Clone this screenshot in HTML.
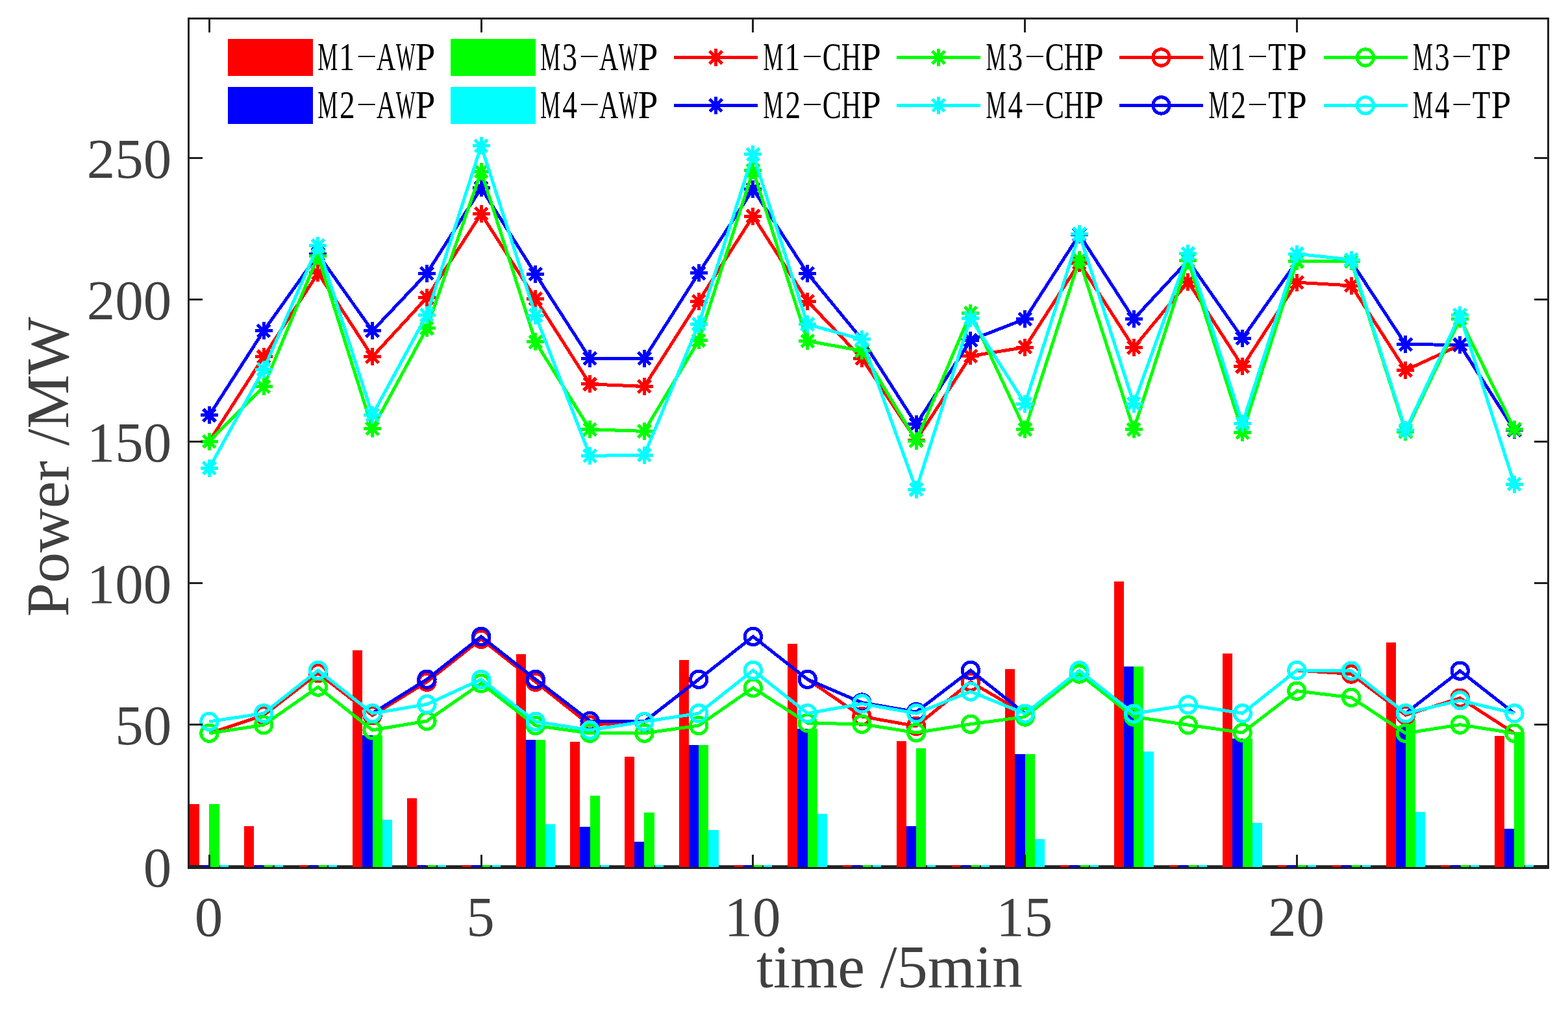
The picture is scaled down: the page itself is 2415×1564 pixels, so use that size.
<!DOCTYPE html><html><head><meta charset="utf-8"><title>Power chart</title>
<style>html,body{margin:0;padding:0;background:#fff;}svg{display:block;}.tk{font-family:"Liberation Serif","Times New Roman",serif;font-size:87px;fill:#404040;}.lb{font-family:"Liberation Serif","Times New Roman",serif;font-size:94px;fill:#404040;}.lg{font-family:"Liberation Serif","Times New Roman",serif;font-size:61px;fill:#000;}</style></head><body>
<svg width="2415" height="1564" viewBox="0 0 2415 1564">
<rect x="0" y="0" width="2415" height="1564" fill="#fff"/>
<defs><clipPath id="ax"><rect x="290.5" y="28.5" width="2093.8" height="1309.0"/></clipPath>
<path id="ast" d="M-13.50 0H13.50M0 -13.50V13.50M-9.55 -9.55L9.55 9.55M-9.55 9.55L9.55 -9.55" stroke-width="5" fill="none"/>
</defs>
<g clip-path="url(#ax)">
<line x1="290.5" y1="1334.70" x2="2384.3" y2="1334.70" stroke="#202020" stroke-width="3"/>
<g shape-rendering="crispEdges">
<rect x="292.0" y="1239.2" width="15.2" height="97.0" fill="#ff0000"/>
<rect x="308.3" y="1333.2" width="13.0" height="3.0" fill="#0000ff"/>
<rect x="322.4" y="1239.2" width="15.2" height="97.0" fill="#00ff00"/>
<rect x="338.7" y="1333.2" width="13.0" height="3.0" fill="#00ffff"/>
<rect x="375.7" y="1273.2" width="15.2" height="63.0" fill="#ff0000"/>
<rect x="392.0" y="1333.2" width="13.0" height="3.0" fill="#0000ff"/>
<rect x="407.3" y="1333.2" width="13.0" height="3.0" fill="#00ff00"/>
<rect x="422.5" y="1333.2" width="13.0" height="3.0" fill="#00ffff"/>
<rect x="460.6" y="1333.2" width="13.0" height="3.0" fill="#ff0000"/>
<rect x="475.8" y="1333.2" width="13.0" height="3.0" fill="#0000ff"/>
<rect x="491.0" y="1333.2" width="13.0" height="3.0" fill="#00ff00"/>
<rect x="506.2" y="1333.2" width="13.0" height="3.0" fill="#00ffff"/>
<rect x="543.2" y="1002.1" width="15.2" height="334.1" fill="#ff0000"/>
<rect x="558.4" y="1133.1" width="15.2" height="203.1" fill="#0000ff"/>
<rect x="573.7" y="1133.1" width="15.2" height="203.1" fill="#00ff00"/>
<rect x="588.9" y="1262.8" width="15.2" height="73.4" fill="#00ffff"/>
<rect x="627.0" y="1230.0" width="15.2" height="106.2" fill="#ff0000"/>
<rect x="643.3" y="1333.2" width="13.0" height="3.0" fill="#0000ff"/>
<rect x="658.5" y="1333.2" width="13.0" height="3.0" fill="#00ff00"/>
<rect x="673.7" y="1333.2" width="13.0" height="3.0" fill="#00ffff"/>
<rect x="711.8" y="1333.2" width="13.0" height="3.0" fill="#ff0000"/>
<rect x="727.0" y="1333.2" width="13.0" height="3.0" fill="#0000ff"/>
<rect x="742.3" y="1333.2" width="13.0" height="3.0" fill="#00ff00"/>
<rect x="757.5" y="1333.2" width="13.0" height="3.0" fill="#00ffff"/>
<rect x="794.5" y="1008.2" width="15.2" height="328.0" fill="#ff0000"/>
<rect x="809.7" y="1139.6" width="15.2" height="196.6" fill="#0000ff"/>
<rect x="824.9" y="1139.6" width="15.2" height="196.6" fill="#00ff00"/>
<rect x="840.1" y="1270.2" width="15.2" height="66.0" fill="#00ffff"/>
<rect x="878.2" y="1143.1" width="15.2" height="193.1" fill="#ff0000"/>
<rect x="893.4" y="1274.1" width="15.2" height="62.1" fill="#0000ff"/>
<rect x="908.7" y="1226.1" width="15.2" height="110.1" fill="#00ff00"/>
<rect x="925.0" y="1333.2" width="13.0" height="3.0" fill="#00ffff"/>
<rect x="962.0" y="1166.3" width="15.2" height="169.9" fill="#ff0000"/>
<rect x="977.2" y="1296.8" width="15.2" height="39.4" fill="#0000ff"/>
<rect x="992.4" y="1252.3" width="15.2" height="83.9" fill="#00ff00"/>
<rect x="1008.7" y="1333.2" width="13.0" height="3.0" fill="#00ffff"/>
<rect x="1045.7" y="1017.4" width="15.2" height="318.8" fill="#ff0000"/>
<rect x="1060.9" y="1148.4" width="15.2" height="187.8" fill="#0000ff"/>
<rect x="1076.2" y="1148.4" width="15.2" height="187.8" fill="#00ff00"/>
<rect x="1091.4" y="1279.4" width="15.2" height="56.8" fill="#00ffff"/>
<rect x="1130.6" y="1333.2" width="13.0" height="3.0" fill="#ff0000"/>
<rect x="1145.8" y="1333.2" width="13.0" height="3.0" fill="#0000ff"/>
<rect x="1161.0" y="1333.2" width="13.0" height="3.0" fill="#00ff00"/>
<rect x="1176.2" y="1333.2" width="13.0" height="3.0" fill="#00ffff"/>
<rect x="1213.2" y="991.6" width="15.2" height="344.6" fill="#ff0000"/>
<rect x="1228.4" y="1123.1" width="15.2" height="213.1" fill="#0000ff"/>
<rect x="1243.7" y="1123.1" width="15.2" height="213.1" fill="#00ff00"/>
<rect x="1258.9" y="1254.0" width="15.2" height="82.2" fill="#00ffff"/>
<rect x="1298.1" y="1333.2" width="13.0" height="3.0" fill="#ff0000"/>
<rect x="1313.3" y="1333.2" width="13.0" height="3.0" fill="#0000ff"/>
<rect x="1328.5" y="1333.2" width="13.0" height="3.0" fill="#00ff00"/>
<rect x="1343.7" y="1333.2" width="13.0" height="3.0" fill="#00ffff"/>
<rect x="1380.7" y="1142.3" width="15.2" height="193.9" fill="#ff0000"/>
<rect x="1395.9" y="1273.2" width="15.2" height="63.0" fill="#0000ff"/>
<rect x="1411.2" y="1153.2" width="15.2" height="183.0" fill="#00ff00"/>
<rect x="1427.5" y="1333.2" width="13.0" height="3.0" fill="#00ffff"/>
<rect x="1465.6" y="1333.2" width="13.0" height="3.0" fill="#ff0000"/>
<rect x="1480.8" y="1333.2" width="13.0" height="3.0" fill="#0000ff"/>
<rect x="1496.0" y="1333.2" width="13.0" height="3.0" fill="#00ff00"/>
<rect x="1511.2" y="1333.2" width="13.0" height="3.0" fill="#00ffff"/>
<rect x="1548.2" y="1031.4" width="15.2" height="304.8" fill="#ff0000"/>
<rect x="1563.4" y="1162.4" width="15.2" height="173.8" fill="#0000ff"/>
<rect x="1578.7" y="1162.4" width="15.2" height="173.8" fill="#00ff00"/>
<rect x="1593.9" y="1293.3" width="15.2" height="42.9" fill="#00ffff"/>
<rect x="1633.1" y="1333.2" width="13.0" height="3.0" fill="#ff0000"/>
<rect x="1648.3" y="1333.2" width="13.0" height="3.0" fill="#0000ff"/>
<rect x="1663.5" y="1333.2" width="13.0" height="3.0" fill="#00ff00"/>
<rect x="1678.7" y="1333.2" width="13.0" height="3.0" fill="#00ffff"/>
<rect x="1715.7" y="896.0" width="15.2" height="440.2" fill="#ff0000"/>
<rect x="1730.9" y="1027.0" width="15.2" height="309.2" fill="#0000ff"/>
<rect x="1746.2" y="1027.0" width="15.2" height="309.2" fill="#00ff00"/>
<rect x="1761.4" y="1158.0" width="15.2" height="178.2" fill="#00ffff"/>
<rect x="1800.6" y="1333.2" width="13.0" height="3.0" fill="#ff0000"/>
<rect x="1815.8" y="1333.2" width="13.0" height="3.0" fill="#0000ff"/>
<rect x="1831.0" y="1333.2" width="13.0" height="3.0" fill="#00ff00"/>
<rect x="1846.2" y="1333.2" width="13.0" height="3.0" fill="#00ffff"/>
<rect x="1883.2" y="1006.9" width="15.2" height="329.3" fill="#ff0000"/>
<rect x="1898.4" y="1137.5" width="15.2" height="198.7" fill="#0000ff"/>
<rect x="1913.7" y="1137.5" width="15.2" height="198.7" fill="#00ff00"/>
<rect x="1928.9" y="1268.4" width="15.2" height="67.8" fill="#00ffff"/>
<rect x="1968.1" y="1333.2" width="13.0" height="3.0" fill="#ff0000"/>
<rect x="1983.3" y="1333.2" width="13.0" height="3.0" fill="#0000ff"/>
<rect x="1998.5" y="1333.2" width="13.0" height="3.0" fill="#00ff00"/>
<rect x="2013.7" y="1333.2" width="13.0" height="3.0" fill="#00ffff"/>
<rect x="2051.8" y="1333.2" width="13.0" height="3.0" fill="#ff0000"/>
<rect x="2067.0" y="1333.2" width="13.0" height="3.0" fill="#0000ff"/>
<rect x="2082.3" y="1333.2" width="13.0" height="3.0" fill="#00ff00"/>
<rect x="2097.5" y="1333.2" width="13.0" height="3.0" fill="#00ffff"/>
<rect x="2134.5" y="989.5" width="15.2" height="346.7" fill="#ff0000"/>
<rect x="2149.7" y="1120.4" width="15.2" height="215.8" fill="#0000ff"/>
<rect x="2164.9" y="1109.1" width="15.2" height="227.1" fill="#00ff00"/>
<rect x="2180.1" y="1250.5" width="15.2" height="85.7" fill="#00ffff"/>
<rect x="2219.3" y="1333.2" width="13.0" height="3.0" fill="#ff0000"/>
<rect x="2234.5" y="1333.2" width="13.0" height="3.0" fill="#0000ff"/>
<rect x="2249.8" y="1333.2" width="13.0" height="3.0" fill="#00ff00"/>
<rect x="2265.0" y="1333.2" width="13.0" height="3.0" fill="#00ffff"/>
<rect x="2302.0" y="1133.5" width="15.2" height="202.7" fill="#ff0000"/>
<rect x="2317.2" y="1277.2" width="15.2" height="59.0" fill="#0000ff"/>
<rect x="2332.4" y="1128.3" width="15.2" height="207.9" fill="#00ff00"/>
<rect x="2348.7" y="1333.2" width="13.0" height="3.0" fill="#00ffff"/>
</g>
<g stroke="#ff0000" fill="none" shape-rendering="crispEdges">
<polyline points="322.4,680.1 406.1,549.6 489.9,420.8 573.6,549.6 657.4,458.7 741.1,329.5 824.9,460.5 908.6,591.9 992.4,595.4 1076.2,464.0 1159.9,333.0 1243.7,464.0 1327.4,552.2 1411.2,678.4 1494.9,548.7 1578.7,535.1 1662.4,405.0 1746.2,535.6 1829.9,434.3 1913.7,564.8 1997.4,435.2 2081.2,440.0 2164.9,570.5 2248.7,531.7 2332.4,662.6" stroke-width="5" stroke-linejoin="miter" stroke-miterlimit="10"/>
<use href="#ast" x="322.4" y="680.1"/>
<use href="#ast" x="406.1" y="549.6"/>
<use href="#ast" x="489.9" y="420.8"/>
<use href="#ast" x="573.6" y="549.6"/>
<use href="#ast" x="657.4" y="458.7"/>
<use href="#ast" x="741.1" y="329.5"/>
<use href="#ast" x="824.9" y="460.5"/>
<use href="#ast" x="908.6" y="591.9"/>
<use href="#ast" x="992.4" y="595.4"/>
<use href="#ast" x="1076.2" y="464.0"/>
<use href="#ast" x="1159.9" y="333.0"/>
<use href="#ast" x="1243.7" y="464.0"/>
<use href="#ast" x="1327.4" y="552.2"/>
<use href="#ast" x="1411.2" y="678.4"/>
<use href="#ast" x="1494.9" y="548.7"/>
<use href="#ast" x="1578.7" y="535.1"/>
<use href="#ast" x="1662.4" y="405.0"/>
<use href="#ast" x="1746.2" y="535.6"/>
<use href="#ast" x="1829.9" y="434.3"/>
<use href="#ast" x="1913.7" y="564.8"/>
<use href="#ast" x="1997.4" y="435.2"/>
<use href="#ast" x="2081.2" y="440.0"/>
<use href="#ast" x="2164.9" y="570.5"/>
<use href="#ast" x="2248.7" y="531.7"/>
<use href="#ast" x="2332.4" y="662.6"/>
</g>
<g stroke="#0000ff" fill="none" shape-rendering="crispEdges">
<polyline points="322.4,639.9 406.1,509.8 489.9,391.9 573.6,509.8 657.4,421.2 741.1,289.8 824.9,422.5 908.6,552.2 992.4,552.2 1076.2,420.8 1159.9,291.5 1243.7,421.2 1327.4,522.9 1411.2,653.9 1494.9,524.2 1578.7,491.5 1662.4,361.4 1746.2,491.5 1829.9,401.5 1913.7,521.2 1997.4,402.9 2081.2,402.9 2164.9,530.8 2248.7,531.2 2332.4,662.6" stroke-width="5" stroke-linejoin="miter" stroke-miterlimit="10"/>
<use href="#ast" x="322.4" y="639.9"/>
<use href="#ast" x="406.1" y="509.8"/>
<use href="#ast" x="489.9" y="391.9"/>
<use href="#ast" x="573.6" y="509.8"/>
<use href="#ast" x="657.4" y="421.2"/>
<use href="#ast" x="741.1" y="289.8"/>
<use href="#ast" x="824.9" y="422.5"/>
<use href="#ast" x="908.6" y="552.2"/>
<use href="#ast" x="992.4" y="552.2"/>
<use href="#ast" x="1076.2" y="420.8"/>
<use href="#ast" x="1159.9" y="291.5"/>
<use href="#ast" x="1243.7" y="421.2"/>
<use href="#ast" x="1327.4" y="522.9"/>
<use href="#ast" x="1411.2" y="653.9"/>
<use href="#ast" x="1494.9" y="524.2"/>
<use href="#ast" x="1578.7" y="491.5"/>
<use href="#ast" x="1662.4" y="361.4"/>
<use href="#ast" x="1746.2" y="491.5"/>
<use href="#ast" x="1829.9" y="401.5"/>
<use href="#ast" x="1913.7" y="521.2"/>
<use href="#ast" x="1997.4" y="402.9"/>
<use href="#ast" x="2081.2" y="402.9"/>
<use href="#ast" x="2164.9" y="530.8"/>
<use href="#ast" x="2248.7" y="531.2"/>
<use href="#ast" x="2332.4" y="662.6"/>
</g>
<g stroke="#00ff00" fill="none" shape-rendering="crispEdges">
<polyline points="322.4,680.1 406.1,595.8 489.9,394.6 573.6,660.5 657.4,505.9 741.1,264.0 824.9,526.9 908.6,661.8 992.4,664.4 1076.2,524.7 1159.9,262.7 1243.7,525.5 1327.4,540.4 1411.2,679.2 1494.9,482.3 1578.7,661.8 1662.4,400.2 1746.2,661.8 1829.9,401.5 1913.7,666.6 1997.4,402.9 2081.2,402.9 2164.9,665.3 2248.7,491.1 2332.4,661.3" stroke-width="5" stroke-linejoin="miter" stroke-miterlimit="10"/>
<use href="#ast" x="322.4" y="680.1"/>
<use href="#ast" x="406.1" y="595.8"/>
<use href="#ast" x="489.9" y="394.6"/>
<use href="#ast" x="573.6" y="660.5"/>
<use href="#ast" x="657.4" y="505.9"/>
<use href="#ast" x="741.1" y="264.0"/>
<use href="#ast" x="824.9" y="526.9"/>
<use href="#ast" x="908.6" y="661.8"/>
<use href="#ast" x="992.4" y="664.4"/>
<use href="#ast" x="1076.2" y="524.7"/>
<use href="#ast" x="1159.9" y="262.7"/>
<use href="#ast" x="1243.7" y="525.5"/>
<use href="#ast" x="1327.4" y="540.4"/>
<use href="#ast" x="1411.2" y="679.2"/>
<use href="#ast" x="1494.9" y="482.3"/>
<use href="#ast" x="1578.7" y="661.8"/>
<use href="#ast" x="1662.4" y="400.2"/>
<use href="#ast" x="1746.2" y="661.8"/>
<use href="#ast" x="1829.9" y="401.5"/>
<use href="#ast" x="1913.7" y="666.6"/>
<use href="#ast" x="1997.4" y="402.9"/>
<use href="#ast" x="2081.2" y="402.9"/>
<use href="#ast" x="2164.9" y="665.3"/>
<use href="#ast" x="2248.7" y="491.1"/>
<use href="#ast" x="2332.4" y="661.3"/>
</g>
<g stroke="#00ffff" fill="none" shape-rendering="crispEdges">
<polyline points="322.4,721.1 406.1,569.2 489.9,378.4 573.6,639.5 657.4,485.4 741.1,224.7 824.9,486.2 908.6,702.4 992.4,701.1 1076.2,499.3 1159.9,237.8 1243.7,499.8 1327.4,522.9 1411.2,754.3 1494.9,490.2 1578.7,622.0 1662.4,360.5 1746.2,622.0 1829.9,390.6 1913.7,652.6 1997.4,391.1 2081.2,400.2 2164.9,662.6 2248.7,485.4 2332.4,746.0" stroke-width="5" stroke-linejoin="miter" stroke-miterlimit="10"/>
<use href="#ast" x="322.4" y="721.1"/>
<use href="#ast" x="406.1" y="569.2"/>
<use href="#ast" x="489.9" y="378.4"/>
<use href="#ast" x="573.6" y="639.5"/>
<use href="#ast" x="657.4" y="485.4"/>
<use href="#ast" x="741.1" y="224.7"/>
<use href="#ast" x="824.9" y="486.2"/>
<use href="#ast" x="908.6" y="702.4"/>
<use href="#ast" x="992.4" y="701.1"/>
<use href="#ast" x="1076.2" y="499.3"/>
<use href="#ast" x="1159.9" y="237.8"/>
<use href="#ast" x="1243.7" y="499.8"/>
<use href="#ast" x="1327.4" y="522.9"/>
<use href="#ast" x="1411.2" y="754.3"/>
<use href="#ast" x="1494.9" y="490.2"/>
<use href="#ast" x="1578.7" y="622.0"/>
<use href="#ast" x="1662.4" y="360.5"/>
<use href="#ast" x="1746.2" y="622.0"/>
<use href="#ast" x="1829.9" y="390.6"/>
<use href="#ast" x="1913.7" y="652.6"/>
<use href="#ast" x="1997.4" y="391.1"/>
<use href="#ast" x="2081.2" y="400.2"/>
<use href="#ast" x="2164.9" y="662.6"/>
<use href="#ast" x="2248.7" y="485.4"/>
<use href="#ast" x="2332.4" y="746.0"/>
</g>
<g stroke="#ff0000" fill="none" shape-rendering="crispEdges">
<polyline points="322.4,1129.8 406.1,1102.3 489.9,1037.2 573.6,1102.3 657.4,1050.8 741.1,984.8 824.9,1050.8 908.6,1117.1 992.4,1112.3 1076.2,1046.8 1159.9,980.9 1243.7,1046.8 1327.4,1104.0 1411.2,1118.9 1494.9,1050.8 1578.7,1099.7 1662.4,1033.3 1746.2,1099.7 1829.9,1086.1 1913.7,1099.2 1997.4,1032.9 2081.2,1038.5 2164.9,1101.9 2248.7,1075.7 2332.4,1129.8" stroke-width="5" stroke-linejoin="miter" stroke-miterlimit="10"/>
<circle cx="322.4" cy="1129.8" r="12.7" stroke-width="5"/>
<circle cx="406.1" cy="1102.3" r="12.7" stroke-width="5"/>
<circle cx="489.9" cy="1037.2" r="12.7" stroke-width="5"/>
<circle cx="573.6" cy="1102.3" r="12.7" stroke-width="5"/>
<circle cx="657.4" cy="1050.8" r="12.7" stroke-width="5"/>
<circle cx="741.1" cy="984.8" r="12.7" stroke-width="5"/>
<circle cx="824.9" cy="1050.8" r="12.7" stroke-width="5"/>
<circle cx="908.6" cy="1117.1" r="12.7" stroke-width="5"/>
<circle cx="992.4" cy="1112.3" r="12.7" stroke-width="5"/>
<circle cx="1076.2" cy="1046.8" r="12.7" stroke-width="5"/>
<circle cx="1159.9" cy="980.9" r="12.7" stroke-width="5"/>
<circle cx="1243.7" cy="1046.8" r="12.7" stroke-width="5"/>
<circle cx="1327.4" cy="1104.0" r="12.7" stroke-width="5"/>
<circle cx="1411.2" cy="1118.9" r="12.7" stroke-width="5"/>
<circle cx="1494.9" cy="1050.8" r="12.7" stroke-width="5"/>
<circle cx="1578.7" cy="1099.7" r="12.7" stroke-width="5"/>
<circle cx="1662.4" cy="1033.3" r="12.7" stroke-width="5"/>
<circle cx="1746.2" cy="1099.7" r="12.7" stroke-width="5"/>
<circle cx="1829.9" cy="1086.1" r="12.7" stroke-width="5"/>
<circle cx="1913.7" cy="1099.2" r="12.7" stroke-width="5"/>
<circle cx="1997.4" cy="1032.9" r="12.7" stroke-width="5"/>
<circle cx="2081.2" cy="1038.5" r="12.7" stroke-width="5"/>
<circle cx="2164.9" cy="1101.9" r="12.7" stroke-width="5"/>
<circle cx="2248.7" cy="1075.7" r="12.7" stroke-width="5"/>
<circle cx="2332.4" cy="1129.8" r="12.7" stroke-width="5"/>
</g>
<g stroke="#0000ff" fill="none" shape-rendering="crispEdges">
<polyline points="322.4,1111.9 406.1,1099.2 489.9,1032.9 573.6,1099.2 657.4,1046.8 741.1,980.9 824.9,1046.8 908.6,1111.0 992.4,1111.9 1076.2,1046.8 1159.9,980.9 1243.7,1046.8 1327.4,1082.6 1411.2,1097.1 1494.9,1032.9 1578.7,1099.7 1662.4,1033.3 1746.2,1099.7 1829.9,1086.1 1913.7,1099.2 1997.4,1032.9 2081.2,1033.7 2164.9,1099.2 2248.7,1033.7 2332.4,1099.2" stroke-width="5" stroke-linejoin="miter" stroke-miterlimit="10"/>
<circle cx="322.4" cy="1111.9" r="12.7" stroke-width="5"/>
<circle cx="406.1" cy="1099.2" r="12.7" stroke-width="5"/>
<circle cx="489.9" cy="1032.9" r="12.7" stroke-width="5"/>
<circle cx="573.6" cy="1099.2" r="12.7" stroke-width="5"/>
<circle cx="657.4" cy="1046.8" r="12.7" stroke-width="5"/>
<circle cx="741.1" cy="980.9" r="12.7" stroke-width="5"/>
<circle cx="824.9" cy="1046.8" r="12.7" stroke-width="5"/>
<circle cx="908.6" cy="1111.0" r="12.7" stroke-width="5"/>
<circle cx="992.4" cy="1111.9" r="12.7" stroke-width="5"/>
<circle cx="1076.2" cy="1046.8" r="12.7" stroke-width="5"/>
<circle cx="1159.9" cy="980.9" r="12.7" stroke-width="5"/>
<circle cx="1243.7" cy="1046.8" r="12.7" stroke-width="5"/>
<circle cx="1327.4" cy="1082.6" r="12.7" stroke-width="5"/>
<circle cx="1411.2" cy="1097.1" r="12.7" stroke-width="5"/>
<circle cx="1494.9" cy="1032.9" r="12.7" stroke-width="5"/>
<circle cx="1578.7" cy="1099.7" r="12.7" stroke-width="5"/>
<circle cx="1662.4" cy="1033.3" r="12.7" stroke-width="5"/>
<circle cx="1746.2" cy="1099.7" r="12.7" stroke-width="5"/>
<circle cx="1829.9" cy="1086.1" r="12.7" stroke-width="5"/>
<circle cx="1913.7" cy="1099.2" r="12.7" stroke-width="5"/>
<circle cx="1997.4" cy="1032.9" r="12.7" stroke-width="5"/>
<circle cx="2081.2" cy="1033.7" r="12.7" stroke-width="5"/>
<circle cx="2164.9" cy="1099.2" r="12.7" stroke-width="5"/>
<circle cx="2248.7" cy="1033.7" r="12.7" stroke-width="5"/>
<circle cx="2332.4" cy="1099.2" r="12.7" stroke-width="5"/>
</g>
<g stroke="#00ff00" fill="none" shape-rendering="crispEdges">
<polyline points="322.4,1129.8 406.1,1117.1 489.9,1058.6 573.6,1125.0 657.4,1111.0 741.1,1053.0 824.9,1118.0 908.6,1129.8 992.4,1129.8 1076.2,1118.0 1159.9,1059.9 1243.7,1114.1 1327.4,1115.8 1411.2,1128.9 1494.9,1115.8 1578.7,1104.5 1662.4,1038.5 1746.2,1104.5 1829.9,1117.1 1913.7,1128.9 1997.4,1064.7 2081.2,1074.8 2164.9,1129.8 2248.7,1116.7 2332.4,1129.8" stroke-width="5" stroke-linejoin="miter" stroke-miterlimit="10"/>
<circle cx="322.4" cy="1129.8" r="12.7" stroke-width="5"/>
<circle cx="406.1" cy="1117.1" r="12.7" stroke-width="5"/>
<circle cx="489.9" cy="1058.6" r="12.7" stroke-width="5"/>
<circle cx="573.6" cy="1125.0" r="12.7" stroke-width="5"/>
<circle cx="657.4" cy="1111.0" r="12.7" stroke-width="5"/>
<circle cx="741.1" cy="1053.0" r="12.7" stroke-width="5"/>
<circle cx="824.9" cy="1118.0" r="12.7" stroke-width="5"/>
<circle cx="908.6" cy="1129.8" r="12.7" stroke-width="5"/>
<circle cx="992.4" cy="1129.8" r="12.7" stroke-width="5"/>
<circle cx="1076.2" cy="1118.0" r="12.7" stroke-width="5"/>
<circle cx="1159.9" cy="1059.9" r="12.7" stroke-width="5"/>
<circle cx="1243.7" cy="1114.1" r="12.7" stroke-width="5"/>
<circle cx="1327.4" cy="1115.8" r="12.7" stroke-width="5"/>
<circle cx="1411.2" cy="1128.9" r="12.7" stroke-width="5"/>
<circle cx="1494.9" cy="1115.8" r="12.7" stroke-width="5"/>
<circle cx="1578.7" cy="1104.5" r="12.7" stroke-width="5"/>
<circle cx="1662.4" cy="1038.5" r="12.7" stroke-width="5"/>
<circle cx="1746.2" cy="1104.5" r="12.7" stroke-width="5"/>
<circle cx="1829.9" cy="1117.1" r="12.7" stroke-width="5"/>
<circle cx="1913.7" cy="1128.9" r="12.7" stroke-width="5"/>
<circle cx="1997.4" cy="1064.7" r="12.7" stroke-width="5"/>
<circle cx="2081.2" cy="1074.8" r="12.7" stroke-width="5"/>
<circle cx="2164.9" cy="1129.8" r="12.7" stroke-width="5"/>
<circle cx="2248.7" cy="1116.7" r="12.7" stroke-width="5"/>
<circle cx="2332.4" cy="1129.8" r="12.7" stroke-width="5"/>
</g>
<g stroke="#00ffff" fill="none" shape-rendering="crispEdges">
<polyline points="322.4,1111.9 406.1,1099.2 489.9,1032.9 573.6,1099.2 657.4,1085.3 741.1,1046.8 824.9,1111.9 908.6,1125.0 992.4,1111.9 1076.2,1099.2 1159.9,1032.9 1243.7,1099.2 1327.4,1084.4 1411.2,1099.2 1494.9,1065.6 1578.7,1099.7 1662.4,1033.3 1746.2,1099.7 1829.9,1086.1 1913.7,1099.2 1997.4,1032.9 2081.2,1033.7 2164.9,1099.2 2248.7,1079.2 2332.4,1099.2" stroke-width="5" stroke-linejoin="miter" stroke-miterlimit="10"/>
<circle cx="322.4" cy="1111.9" r="12.7" stroke-width="5"/>
<circle cx="406.1" cy="1099.2" r="12.7" stroke-width="5"/>
<circle cx="489.9" cy="1032.9" r="12.7" stroke-width="5"/>
<circle cx="573.6" cy="1099.2" r="12.7" stroke-width="5"/>
<circle cx="657.4" cy="1085.3" r="12.7" stroke-width="5"/>
<circle cx="741.1" cy="1046.8" r="12.7" stroke-width="5"/>
<circle cx="824.9" cy="1111.9" r="12.7" stroke-width="5"/>
<circle cx="908.6" cy="1125.0" r="12.7" stroke-width="5"/>
<circle cx="992.4" cy="1111.9" r="12.7" stroke-width="5"/>
<circle cx="1076.2" cy="1099.2" r="12.7" stroke-width="5"/>
<circle cx="1159.9" cy="1032.9" r="12.7" stroke-width="5"/>
<circle cx="1243.7" cy="1099.2" r="12.7" stroke-width="5"/>
<circle cx="1327.4" cy="1084.4" r="12.7" stroke-width="5"/>
<circle cx="1411.2" cy="1099.2" r="12.7" stroke-width="5"/>
<circle cx="1494.9" cy="1065.6" r="12.7" stroke-width="5"/>
<circle cx="1578.7" cy="1099.7" r="12.7" stroke-width="5"/>
<circle cx="1662.4" cy="1033.3" r="12.7" stroke-width="5"/>
<circle cx="1746.2" cy="1099.7" r="12.7" stroke-width="5"/>
<circle cx="1829.9" cy="1086.1" r="12.7" stroke-width="5"/>
<circle cx="1913.7" cy="1099.2" r="12.7" stroke-width="5"/>
<circle cx="1997.4" cy="1032.9" r="12.7" stroke-width="5"/>
<circle cx="2081.2" cy="1033.7" r="12.7" stroke-width="5"/>
<circle cx="2164.9" cy="1099.2" r="12.7" stroke-width="5"/>
<circle cx="2248.7" cy="1079.2" r="12.7" stroke-width="5"/>
<circle cx="2332.4" cy="1099.2" r="12.7" stroke-width="5"/>
</g>
</g>
<g stroke="#202020" stroke-width="3" fill="none" shape-rendering="crispEdges">
<rect x="290.5" y="28.5" width="2093.8" height="1309.0"/>
<line x1="322.4" y1="1337.5" x2="322.4" y2="1316.5"/>
<line x1="322.4" y1="28.5" x2="322.4" y2="49.5"/>
<line x1="741.1" y1="1337.5" x2="741.1" y2="1316.5"/>
<line x1="741.1" y1="28.5" x2="741.1" y2="49.5"/>
<line x1="1159.9" y1="1337.5" x2="1159.9" y2="1316.5"/>
<line x1="1159.9" y1="28.5" x2="1159.9" y2="49.5"/>
<line x1="1578.7" y1="1337.5" x2="1578.7" y2="1316.5"/>
<line x1="1578.7" y1="28.5" x2="1578.7" y2="49.5"/>
<line x1="1997.4" y1="1337.5" x2="1997.4" y2="1316.5"/>
<line x1="1997.4" y1="28.5" x2="1997.4" y2="49.5"/>
<line x1="290.5" y1="1334.5" x2="311.5" y2="1334.5"/>
<line x1="2384.3" y1="1334.5" x2="2363.3" y2="1334.5"/>
<line x1="290.5" y1="1116.5" x2="311.5" y2="1116.5"/>
<line x1="2384.3" y1="1116.5" x2="2363.3" y2="1116.5"/>
<line x1="290.5" y1="898.5" x2="311.5" y2="898.5"/>
<line x1="2384.3" y1="898.5" x2="2363.3" y2="898.5"/>
<line x1="290.5" y1="680.5" x2="311.5" y2="680.5"/>
<line x1="2384.3" y1="680.5" x2="2363.3" y2="680.5"/>
<line x1="290.5" y1="461.5" x2="311.5" y2="461.5"/>
<line x1="2384.3" y1="461.5" x2="2363.3" y2="461.5"/>
<line x1="290.5" y1="243.5" x2="311.5" y2="243.5"/>
<line x1="2384.3" y1="243.5" x2="2363.3" y2="243.5"/>
</g>
<text class="tk" x="264.3" y="1365.5" text-anchor="end">0</text>
<text class="tk" x="264.3" y="1147.2" text-anchor="end">50</text>
<text class="tk" x="264.3" y="928.9" text-anchor="end">100</text>
<text class="tk" x="264.3" y="710.6" text-anchor="end">150</text>
<text class="tk" x="264.3" y="492.3" text-anchor="end">200</text>
<text class="tk" x="264.3" y="274.0" text-anchor="end">250</text>
<text class="tk" x="321.4" y="1442" text-anchor="middle">0</text>
<text class="tk" x="740.1" y="1442" text-anchor="middle">5</text>
<text class="tk" x="1158.9" y="1442" text-anchor="middle">10</text>
<text class="tk" x="1577.7" y="1442" text-anchor="middle">15</text>
<text class="tk" x="1996.4" y="1442" text-anchor="middle">20</text>
<text class="lb" x="1165" y="1521">time /5min</text>
<text class="lb" transform="translate(104.9 950.5) rotate(-90)">Power /MW</text>
<rect x="351.0" y="60.0" width="131" height="57" fill="#ff0000" shape-rendering="crispEdges"/>
<text class="lg"><tspan x="489.19" y="107.90" textLength="31.03" lengthAdjust="spacingAndGlyphs">M</tspan><tspan x="521.96" y="107.90" textLength="24.14" lengthAdjust="spacingAndGlyphs">1</tspan><tspan x="547.99" y="93.36" style="font-size:27.0px" textLength="33.33" lengthAdjust="spacingAndGlyphs">-</tspan><tspan x="579.80" y="107.90" textLength="29.70" lengthAdjust="spacingAndGlyphs">A</tspan><tspan x="609.67" y="107.90" textLength="30.09" lengthAdjust="spacingAndGlyphs">W</tspan><tspan x="639.60" y="107.90" textLength="30.81" lengthAdjust="spacingAndGlyphs">P</tspan></text>
<rect x="351.0" y="133.9" width="131" height="57" fill="#0000ff" shape-rendering="crispEdges"/>
<text class="lg"><tspan x="489.19" y="181.80" textLength="31.03" lengthAdjust="spacingAndGlyphs">M</tspan><tspan x="523.12" y="181.80" textLength="23.70" lengthAdjust="spacingAndGlyphs">2</tspan><tspan x="547.99" y="167.26" style="font-size:27.0px" textLength="33.33" lengthAdjust="spacingAndGlyphs">-</tspan><tspan x="579.80" y="181.80" textLength="29.70" lengthAdjust="spacingAndGlyphs">A</tspan><tspan x="609.67" y="181.80" textLength="30.09" lengthAdjust="spacingAndGlyphs">W</tspan><tspan x="639.60" y="181.80" textLength="30.81" lengthAdjust="spacingAndGlyphs">P</tspan></text>
<rect x="694.0" y="60.0" width="131" height="57" fill="#00ff00" shape-rendering="crispEdges"/>
<text class="lg"><tspan x="832.19" y="107.90" textLength="31.03" lengthAdjust="spacingAndGlyphs">M</tspan><tspan x="866.00" y="107.90" textLength="23.00" lengthAdjust="spacingAndGlyphs">3</tspan><tspan x="890.99" y="93.36" style="font-size:27.0px" textLength="33.33" lengthAdjust="spacingAndGlyphs">-</tspan><tspan x="922.80" y="107.90" textLength="29.70" lengthAdjust="spacingAndGlyphs">A</tspan><tspan x="952.67" y="107.90" textLength="30.09" lengthAdjust="spacingAndGlyphs">W</tspan><tspan x="982.60" y="107.90" textLength="30.81" lengthAdjust="spacingAndGlyphs">P</tspan></text>
<rect x="694.0" y="133.9" width="131" height="57" fill="#00ffff" shape-rendering="crispEdges"/>
<text class="lg"><tspan x="832.19" y="181.80" textLength="31.03" lengthAdjust="spacingAndGlyphs">M</tspan><tspan x="866.32" y="181.80" textLength="22.59" lengthAdjust="spacingAndGlyphs">4</tspan><tspan x="890.99" y="167.26" style="font-size:27.0px" textLength="33.33" lengthAdjust="spacingAndGlyphs">-</tspan><tspan x="922.80" y="181.80" textLength="29.70" lengthAdjust="spacingAndGlyphs">A</tspan><tspan x="952.67" y="181.80" textLength="30.09" lengthAdjust="spacingAndGlyphs">W</tspan><tspan x="982.60" y="181.80" textLength="30.81" lengthAdjust="spacingAndGlyphs">P</tspan></text>
<g stroke="#ff0000" fill="none" shape-rendering="crispEdges"><line x1="1038.0" y1="88.5" x2="1167.0" y2="88.5" stroke-width="5"/>
<use href="#ast" x="1102.5" y="88.5"/>
</g>
<text class="lg"><tspan x="1175.49" y="107.90" textLength="31.03" lengthAdjust="spacingAndGlyphs">M</tspan><tspan x="1208.26" y="107.90" textLength="24.14" lengthAdjust="spacingAndGlyphs">1</tspan><tspan x="1234.29" y="93.36" style="font-size:27.0px" textLength="33.33" lengthAdjust="spacingAndGlyphs">-</tspan><tspan x="1266.70" y="107.90" textLength="29.21" lengthAdjust="spacingAndGlyphs">C</tspan><tspan x="1295.79" y="107.90" textLength="30.45" lengthAdjust="spacingAndGlyphs">H</tspan><tspan x="1325.90" y="107.90" textLength="30.81" lengthAdjust="spacingAndGlyphs">P</tspan></text>
<g stroke="#0000ff" fill="none" shape-rendering="crispEdges"><line x1="1038.0" y1="162.4" x2="1167.0" y2="162.4" stroke-width="5"/>
<use href="#ast" x="1102.5" y="162.4"/>
</g>
<text class="lg"><tspan x="1175.49" y="181.80" textLength="31.03" lengthAdjust="spacingAndGlyphs">M</tspan><tspan x="1209.42" y="181.80" textLength="23.70" lengthAdjust="spacingAndGlyphs">2</tspan><tspan x="1234.29" y="167.26" style="font-size:27.0px" textLength="33.33" lengthAdjust="spacingAndGlyphs">-</tspan><tspan x="1266.70" y="181.80" textLength="29.21" lengthAdjust="spacingAndGlyphs">C</tspan><tspan x="1295.79" y="181.80" textLength="30.45" lengthAdjust="spacingAndGlyphs">H</tspan><tspan x="1325.90" y="181.80" textLength="30.81" lengthAdjust="spacingAndGlyphs">P</tspan></text>
<g stroke="#00ff00" fill="none" shape-rendering="crispEdges"><line x1="1381.0" y1="88.5" x2="1510.0" y2="88.5" stroke-width="5"/>
<use href="#ast" x="1445.5" y="88.5"/>
</g>
<text class="lg"><tspan x="1518.49" y="107.90" textLength="31.03" lengthAdjust="spacingAndGlyphs">M</tspan><tspan x="1552.30" y="107.90" textLength="23.00" lengthAdjust="spacingAndGlyphs">3</tspan><tspan x="1577.29" y="93.36" style="font-size:27.0px" textLength="33.33" lengthAdjust="spacingAndGlyphs">-</tspan><tspan x="1609.70" y="107.90" textLength="29.21" lengthAdjust="spacingAndGlyphs">C</tspan><tspan x="1638.79" y="107.90" textLength="30.45" lengthAdjust="spacingAndGlyphs">H</tspan><tspan x="1668.90" y="107.90" textLength="30.81" lengthAdjust="spacingAndGlyphs">P</tspan></text>
<g stroke="#00ffff" fill="none" shape-rendering="crispEdges"><line x1="1381.0" y1="162.4" x2="1510.0" y2="162.4" stroke-width="5"/>
<use href="#ast" x="1445.5" y="162.4"/>
</g>
<text class="lg"><tspan x="1518.49" y="181.80" textLength="31.03" lengthAdjust="spacingAndGlyphs">M</tspan><tspan x="1552.62" y="181.80" textLength="22.59" lengthAdjust="spacingAndGlyphs">4</tspan><tspan x="1577.29" y="167.26" style="font-size:27.0px" textLength="33.33" lengthAdjust="spacingAndGlyphs">-</tspan><tspan x="1609.70" y="181.80" textLength="29.21" lengthAdjust="spacingAndGlyphs">C</tspan><tspan x="1638.79" y="181.80" textLength="30.45" lengthAdjust="spacingAndGlyphs">H</tspan><tspan x="1668.90" y="181.80" textLength="30.81" lengthAdjust="spacingAndGlyphs">P</tspan></text>
<g stroke="#ff0000" fill="none" shape-rendering="crispEdges"><line x1="1724.0" y1="88.5" x2="1853.0" y2="88.5" stroke-width="5"/>
<circle cx="1788.5" cy="88.5" r="12.7" stroke-width="5"/>
</g>
<text class="lg"><tspan x="1861.49" y="107.90" textLength="31.03" lengthAdjust="spacingAndGlyphs">M</tspan><tspan x="1894.26" y="107.90" textLength="24.14" lengthAdjust="spacingAndGlyphs">1</tspan><tspan x="1920.29" y="93.36" style="font-size:27.0px" textLength="33.33" lengthAdjust="spacingAndGlyphs">-</tspan><tspan x="1953.18" y="107.90" textLength="27.56" lengthAdjust="spacingAndGlyphs">T</tspan><tspan x="1981.90" y="107.90" textLength="30.81" lengthAdjust="spacingAndGlyphs">P</tspan></text>
<g stroke="#0000ff" fill="none" shape-rendering="crispEdges"><line x1="1724.0" y1="162.4" x2="1853.0" y2="162.4" stroke-width="5"/>
<circle cx="1788.5" cy="162.4" r="12.7" stroke-width="5"/>
</g>
<text class="lg"><tspan x="1861.49" y="181.80" textLength="31.03" lengthAdjust="spacingAndGlyphs">M</tspan><tspan x="1895.42" y="181.80" textLength="23.70" lengthAdjust="spacingAndGlyphs">2</tspan><tspan x="1920.29" y="167.26" style="font-size:27.0px" textLength="33.33" lengthAdjust="spacingAndGlyphs">-</tspan><tspan x="1953.18" y="181.80" textLength="27.56" lengthAdjust="spacingAndGlyphs">T</tspan><tspan x="1981.90" y="181.80" textLength="30.81" lengthAdjust="spacingAndGlyphs">P</tspan></text>
<g stroke="#00ff00" fill="none" shape-rendering="crispEdges"><line x1="2038.5" y1="88.5" x2="2167.5" y2="88.5" stroke-width="5"/>
<circle cx="2103.0" cy="88.5" r="12.7" stroke-width="5"/>
</g>
<text class="lg"><tspan x="2175.99" y="107.90" textLength="31.03" lengthAdjust="spacingAndGlyphs">M</tspan><tspan x="2209.80" y="107.90" textLength="23.00" lengthAdjust="spacingAndGlyphs">3</tspan><tspan x="2234.79" y="93.36" style="font-size:27.0px" textLength="33.33" lengthAdjust="spacingAndGlyphs">-</tspan><tspan x="2267.68" y="107.90" textLength="27.56" lengthAdjust="spacingAndGlyphs">T</tspan><tspan x="2296.40" y="107.90" textLength="30.81" lengthAdjust="spacingAndGlyphs">P</tspan></text>
<g stroke="#00ffff" fill="none" shape-rendering="crispEdges"><line x1="2038.5" y1="162.4" x2="2167.5" y2="162.4" stroke-width="5"/>
<circle cx="2103.0" cy="162.4" r="12.7" stroke-width="5"/>
</g>
<text class="lg"><tspan x="2175.99" y="181.80" textLength="31.03" lengthAdjust="spacingAndGlyphs">M</tspan><tspan x="2210.12" y="181.80" textLength="22.59" lengthAdjust="spacingAndGlyphs">4</tspan><tspan x="2234.79" y="167.26" style="font-size:27.0px" textLength="33.33" lengthAdjust="spacingAndGlyphs">-</tspan><tspan x="2267.68" y="181.80" textLength="27.56" lengthAdjust="spacingAndGlyphs">T</tspan><tspan x="2296.40" y="181.80" textLength="30.81" lengthAdjust="spacingAndGlyphs">P</tspan></text>
</svg></body></html>
